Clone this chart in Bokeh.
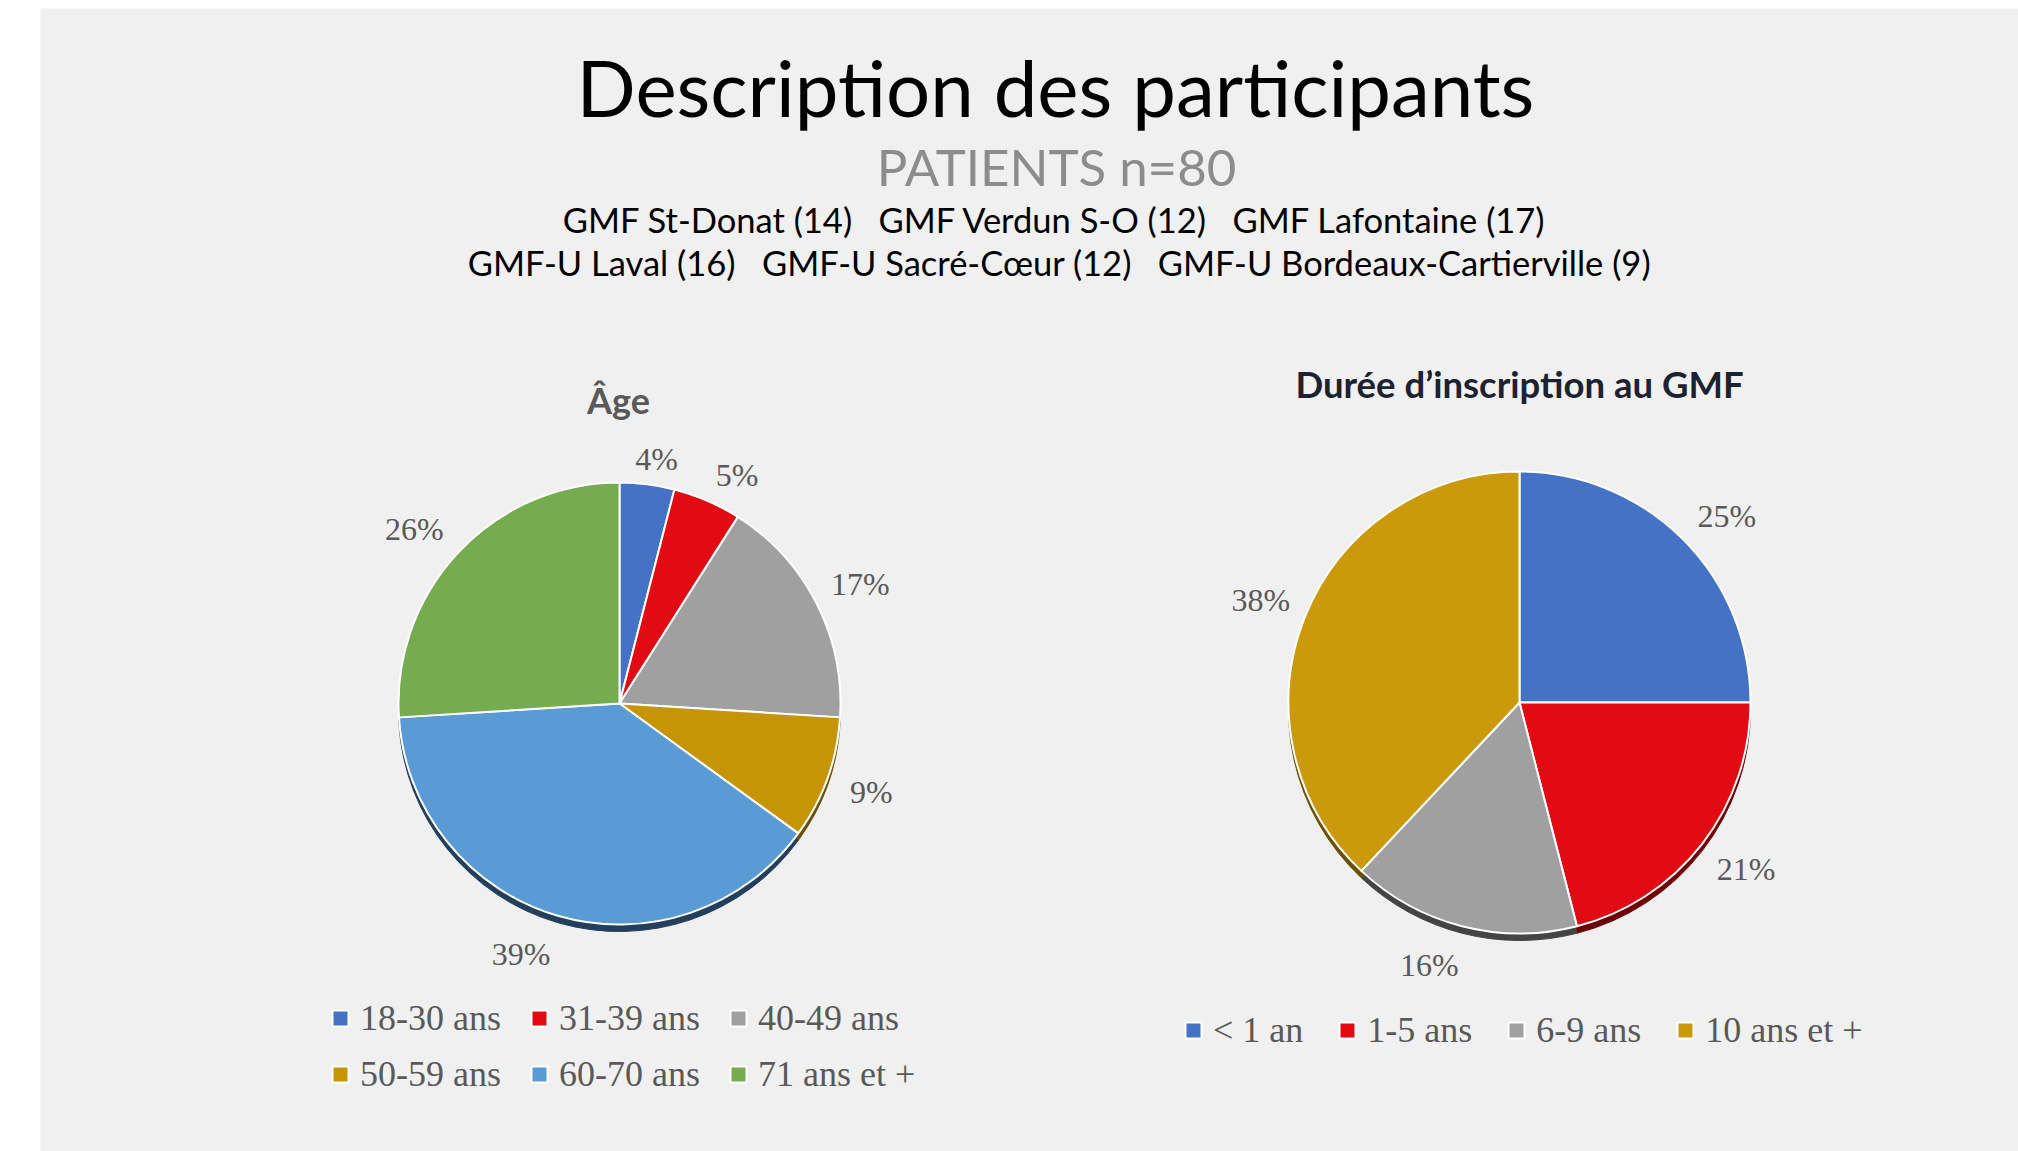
import math
from bokeh.plotting import figure
from bokeh.models import ColumnDataSource, Range1d, Legend, LegendItem
from bokeh.core.properties import value
from bokeh.embed import file_html
from bokeh.resources import INLINE

# ---------------- data ----------------
main_title = "Description des participants"
subtitle = "PATIENTS n=80"
sites_line1 = ["GMF St-Donat (14)", "GMF Verdun S-O (12)", "GMF Lafontaine (17)"]
sites_line2 = ["GMF-U Laval (16)", "GMF-U Sacré-Cœur (12)", "GMF-U Bordeaux-Cartierville (9)"]

age_title = "Âge"
age_labels = ["18-30 ans", "31-39 ans", "40-49 ans", "50-59 ans", "60-70 ans", "71 ans et +"]
age_pct = [4, 5, 17, 9, 39, 26]
age_colors = ["#4472c4", "#e20b13", "#a0a0a0", "#c59507", "#5b9bd5", "#74ac4f"]
age_shadow = ["#27406e", "#7a0508", "#444444", "#6b5004", "#233f5b", "#3c5c29"]

dur_title = "Durée d’inscription au GMF"
dur_labels = ["< 1 an", "1-5 ans", "6-9 ans", "10 ans et +"]
dur_pct = [25, 21, 16, 38]
dur_colors = ["#4472c4", "#e20b13", "#a0a0a0", "#ca9a0c"]
dur_shadow = ["#27406e", "#6e0306", "#444444", "#6b5004"]

# ---------------- layout ----------------
W, H = 2018, 1151
p = figure(width=W, height=H, output_backend="svg", toolbar_location=None,
           x_range=Range1d(40, 2018), y_range=Range1d(-1151, -8),
           x_axis_location=None, y_axis_location=None,
           min_border_left=40, min_border_right=0, min_border_top=8, min_border_bottom=0)
p.grid.visible = False
p.outline_line_color = None
p.background_fill_color = "#f0f0f0"
p.border_fill_color = "white"

SANS = value("Lato")
SERIF = value("Liberation Serif")

def txt(x, y, s, size, color="black", font=SANS, style="normal"):
    # y is the intended baseline (page px); compensate renderer's baseline offset
    p.text(x=[x], y=[-(y - 0.37 * size)], text=[s], text_font=font, text_font_size=f"{size}px",
           text_color=color, text_font_style=style, text_align="center", text_baseline="alphabetic")

sep = "\u00a0\u00a0 "
txt(1055, 115, main_title, 78)
txt(1056, 185, subtitle, 51, color="#8c8c8c")
txt(1055, 232, sep.join(sites_line1), 34.5)
txt(1059, 275, sep.join(sites_line2), 34.5)

txt(618, 413, age_title, 36, color="#595959", style="bold")
txt(1519, 397, dur_title, 36.5, color="#1c2230", style="bold")

def pie(cx, cy, r, pct, colors, shadow):
    total = float(sum(pct))
    cum = [0.0]
    for v in pct:
        cum.append(cum[-1] + v / total)
    starts = [math.pi / 2 - 2 * math.pi * cum[i + 1] for i in range(len(pct))]
    ends = [math.pi / 2 - 2 * math.pi * cum[i] for i in range(len(pct))]
    n = len(pct)
    sh = ColumnDataSource(dict(x=[cx] * n, y=[-(cy + 7)] * n, s=starts, e=ends, c=shadow))
    p.wedge(x="x", y="y", radius=r, start_angle="s", end_angle="e", fill_color="c",
            line_color="c", source=sh)
    src = ColumnDataSource(dict(x=[cx] * n, y=[-cy] * n, s=starts, e=ends, c=colors))
    rr = p.wedge(x="x", y="y", radius=r, start_angle="s", end_angle="e", fill_color="c",
                 line_color="white", line_width=2, source=src)
    lx, ly, lt = [], [], []
    for i, v in enumerate(pct):
        theta = 2 * math.pi * (cum[i] + cum[i + 1]) / 2  # clockwise from top
        s, c = math.sin(theta), math.cos(theta)
        k = 1.7 if c > 0 else 3.0
        dx = 44 * math.copysign(min(1.0, abs(s) * k), s)
        dy = (-24 * c - 9 * abs(s)) if c > 0 else -40 * c
        lx.append(cx + r * s + dx)
        ly.append(-(cy - r * c + dy))
        lt.append(f"{v}%")
    p.text(x=lx, y=ly, text=lt, text_font=SERIF, text_font_size="32px", text_color="#595959",
           text_align="center", text_baseline="middle")
    return rr

r_age = pie(619, 703, 221, age_pct, age_colors, age_shadow)
r_dur = pie(1519, 702, 231, dur_pct, dur_colors, dur_shadow)

def make_legend(items, loc, spacing):
    lg = Legend(items=items, orientation="horizontal", location=loc,
                background_fill_alpha=0, border_line_alpha=0, padding=0, margin=0,
                spacing=spacing, glyph_width=20, glyph_height=20, label_height=20,
                label_standoff=10, label_text_font="Liberation Serif",
                label_text_font_size="36px", label_text_color="#595959")
    p.add_layout(lg, "center")

make_legend([LegendItem(label=age_labels[i], renderers=[r_age], index=i) for i in range(3)], (290, 112), 28)
make_legend([LegendItem(label=age_labels[i], renderers=[r_age], index=i) for i in range(3, 6)], (290, 56), 28)
make_legend([LegendItem(label=dur_labels[i], renderers=[r_dur], index=i) for i in range(4)], (1143, 100), 34)

open("out.html", "w").write(file_html(p, INLINE))
